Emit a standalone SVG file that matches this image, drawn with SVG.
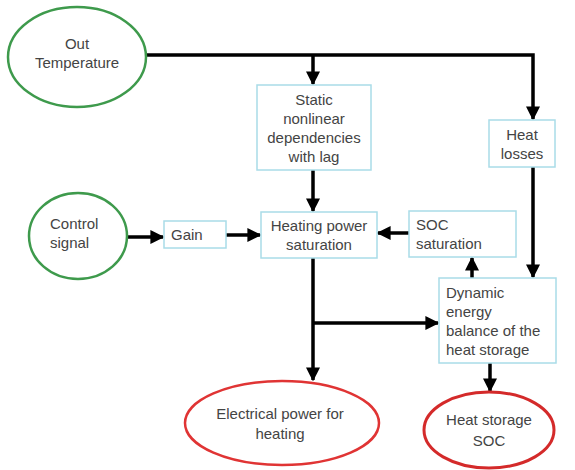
<svg xmlns="http://www.w3.org/2000/svg" width="575" height="470" viewBox="0 0 575 470">
<defs>
<marker id="ah" viewBox="0 0 10 10" refX="9" refY="5" markerWidth="4" markerHeight="4" orient="auto" markerUnits="strokeWidth">
<path d="M0,0 L10,5 L0,10 Z" fill="#000"/>
</marker>
<style>
text{font-family:"Liberation Sans",Arial,sans-serif;font-size:15px;fill:#444}
.c{text-anchor:middle}
.box{fill:#fff;stroke:#a9dce8;stroke-width:1.5}
.g{fill:#fff;stroke:#3e9a4c;stroke-width:2.5}
.r{fill:#fff;stroke:#e03434;stroke-width:2.5}
.conn path{fill:none;stroke:#000;stroke-width:3.5}
</style>
</defs>
<rect width="575" height="470" fill="#fff"/>
<g class="conn">
<path d="M146,55 H533 V119" marker-end="url(#ah)"/>
<path d="M313,55 V84" marker-end="url(#ah)"/>
<path d="M313,170 V211" marker-end="url(#ah)"/>
<path d="M127,237 H163" marker-end="url(#ah)"/>
<path d="M226,235 H260" marker-end="url(#ah)"/>
<path d="M409,233 H378" marker-end="url(#ah)"/>
<path d="M533,167 V277" marker-end="url(#ah)"/>
<path d="M472,278 V258" marker-end="url(#ah)"/>
<path d="M313,258 V380" marker-end="url(#ah)"/>
<path d="M313,323 H438" marker-end="url(#ah)"/>
<path d="M490,363 V391" marker-end="url(#ah)"/>
</g>
<g id="out-temp"><ellipse class="g" cx="77" cy="57" rx="69" ry="50"/><text class="c" x="77" y="49">Out</text><text class="c" x="77" y="68">Temperature</text></g>
<g id="static"><rect class="box" x="257" y="85" width="114" height="85"/><text class="c" x="314" y="105">Static</text><text class="c" x="314" y="124">nonlinear</text><text class="c" x="314" y="143">dependencies</text><text class="c" x="314" y="162">with lag</text></g>
<g id="heat-losses"><rect class="box" x="489" y="120" width="66" height="47"/><text class="c" x="522" y="140">Heat</text><text class="c" x="522" y="159">losses</text></g>
<g id="control"><ellipse class="g" cx="78" cy="236" rx="49" ry="43"/><text x="50" y="229">Control</text><text x="50" y="248">signal</text></g>
<g id="gain"><rect class="box" x="164" y="221" width="62" height="27"/><text x="171" y="240">Gain</text></g>
<g id="heating"><rect class="box" x="261" y="212" width="116" height="46"/><text class="c" x="319" y="231">Heating power</text><text class="c" x="319" y="250">saturation</text></g>
<g id="soc-sat"><rect class="box" x="409" y="211" width="107" height="46"/><text x="416" y="230">SOC</text><text x="416" y="249">saturation</text></g>
<g id="dynamic"><rect class="box" x="439" y="278" width="117" height="85"/><text x="446" y="298">Dynamic</text><text x="446" y="317">energy</text><text x="446" y="336">balance of the</text><text x="446" y="355">heat storage</text></g>
<g id="electrical"><ellipse class="r" cx="282" cy="423" rx="97" ry="42"/><text class="c" x="280" y="419">Electrical power for</text><text class="c" x="280" y="439">heating</text></g>
<g id="soc"><ellipse class="r" cx="489" cy="430" rx="65" ry="38" style="stroke:#d42a2a;stroke-width:3"/><text class="c" x="489" y="425">Heat storage</text><text class="c" x="489" y="446">SOC</text></g>
</svg>
